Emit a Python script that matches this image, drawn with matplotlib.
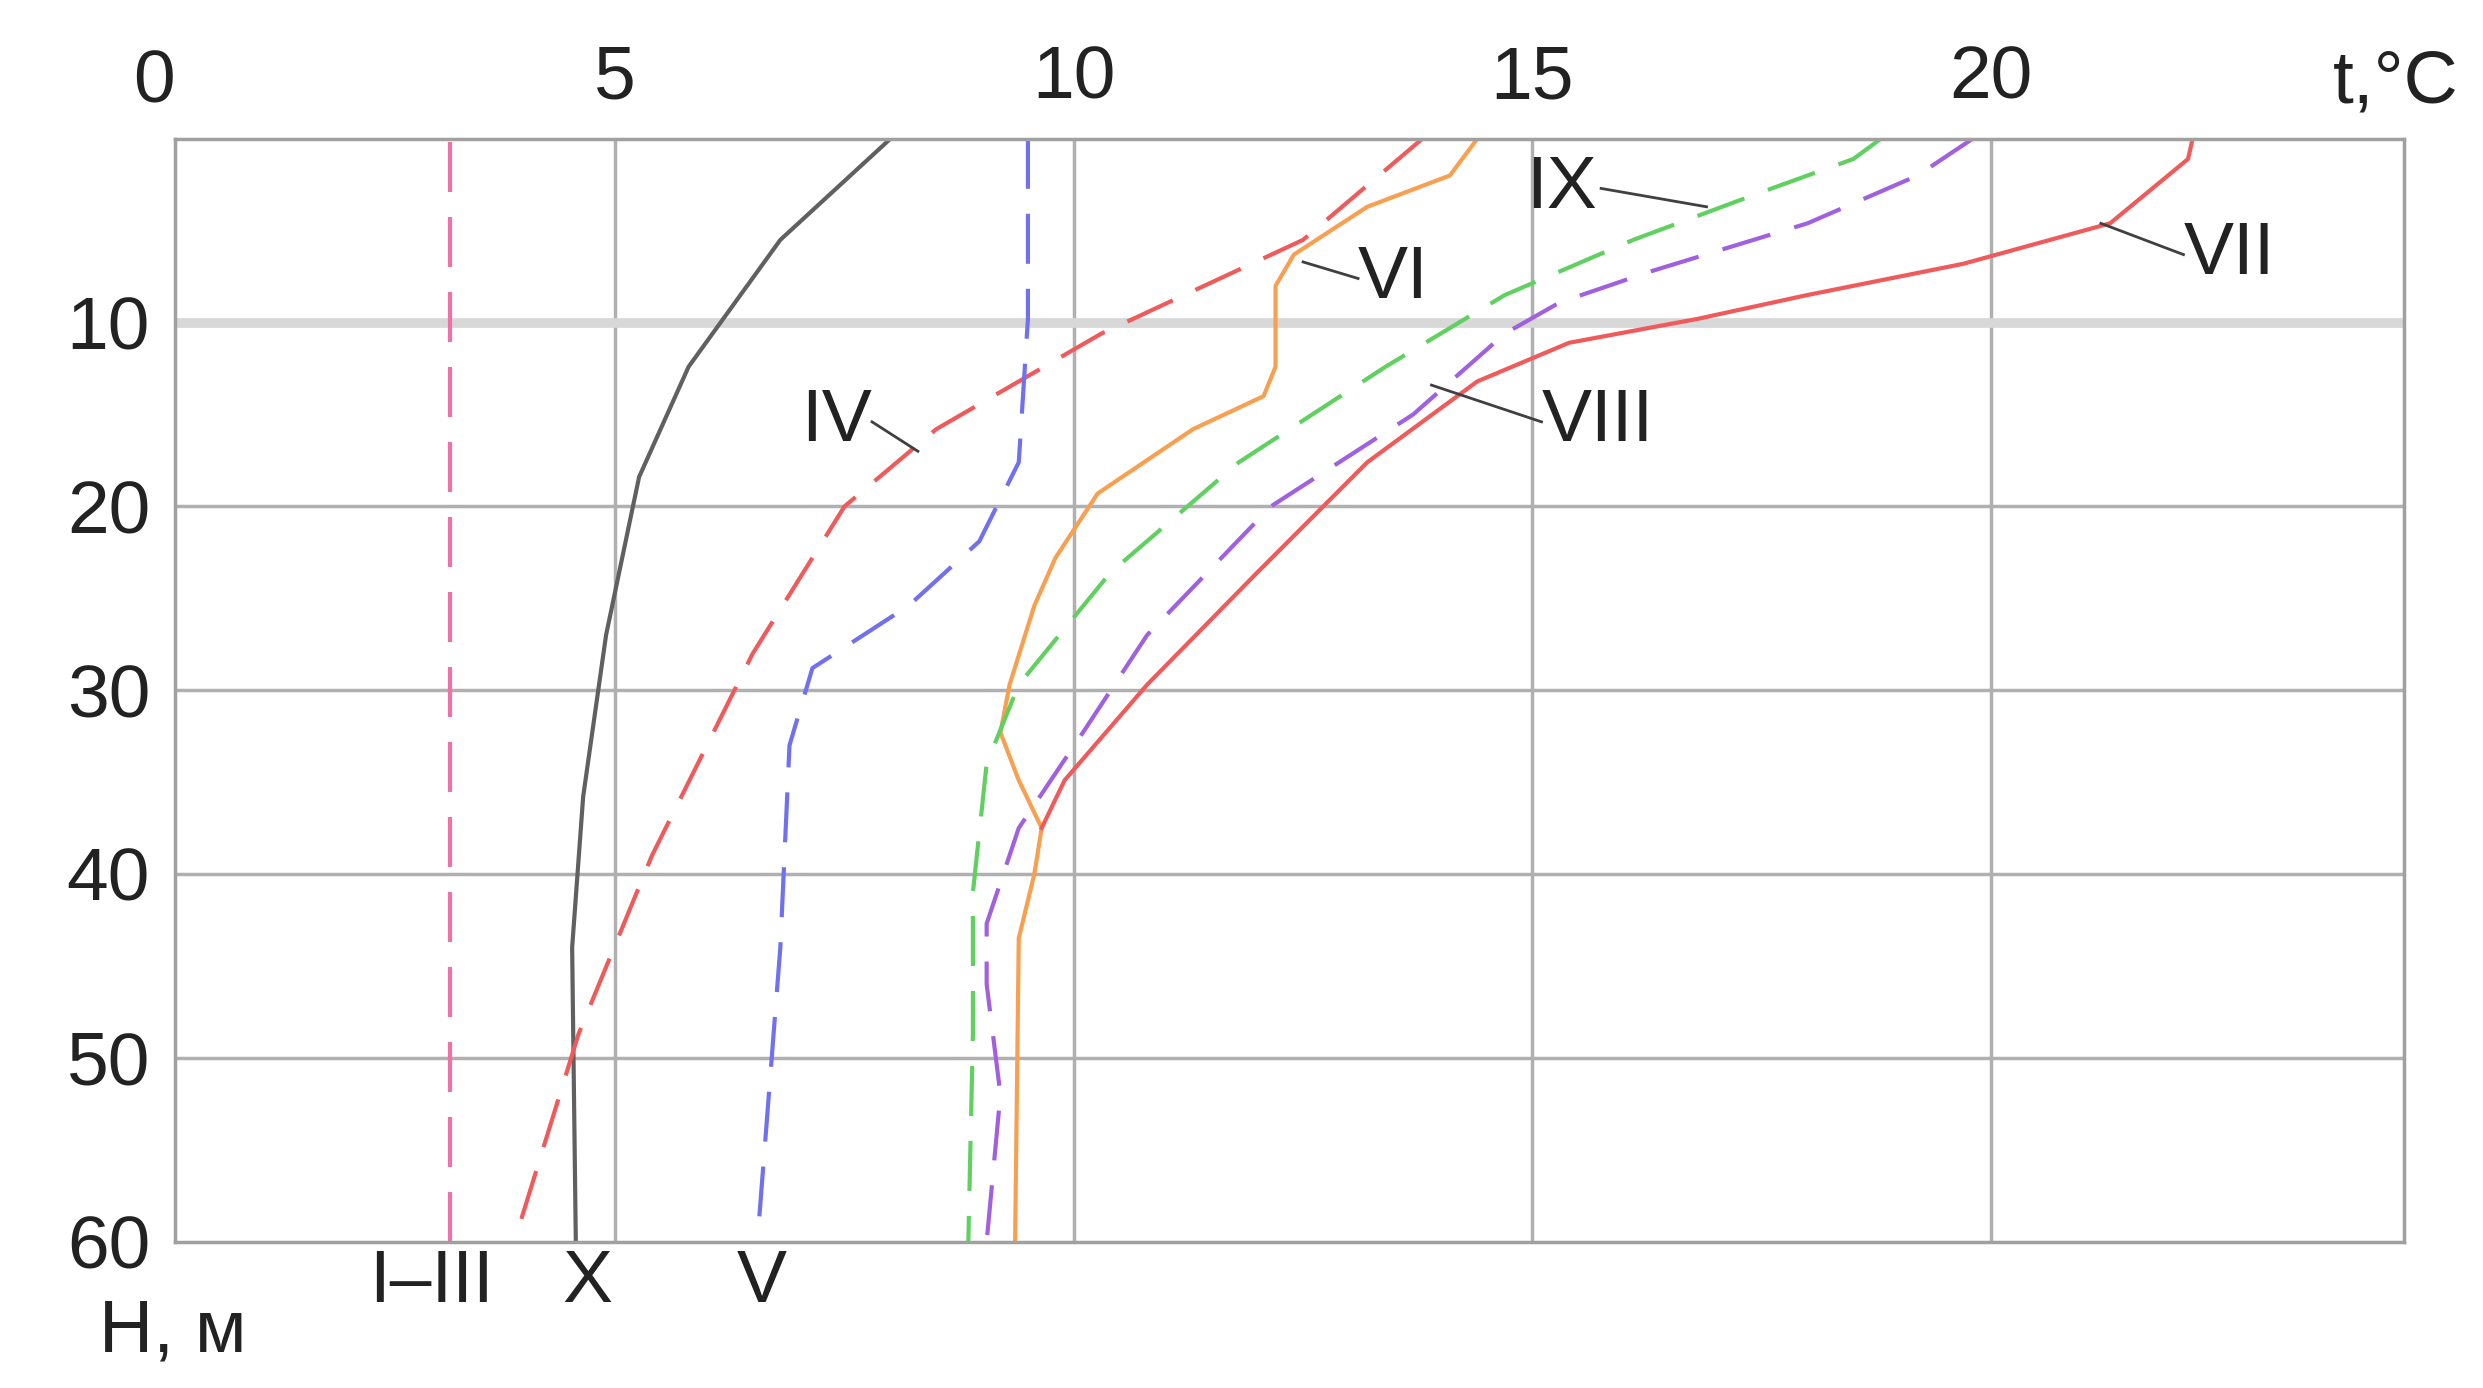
import matplotlib
matplotlib.use("Agg")
import matplotlib.pyplot as plt

plt.rcParams['font.family'] = ['Liberation Sans', 'DejaVu Sans']

# depth (m) and temperature (°C) for each month curve
X_H = [0, 5.5, 12.4, 18.4, 27, 35.8, 44, 60]
X_T = [8.0, 6.8, 5.8, 5.26, 4.9, 4.65, 4.53, 4.57]

IV_H = [0, 5.5, 10.6, 15.8, 20, 28, 39, 48.7, 60]
IV_T = [13.8, 12.5, 10.3, 8.5, 7.5, 6.5, 5.4, 4.6, 3.9]

V_H = [0, 9.8, 17.6, 21.9, 25.4, 28.8, 33, 44, 60]
V_T = [9.5, 9.5, 9.4, 8.97, 8.2, 7.15, 6.9, 6.8, 6.55]

VI_H = [0, 2, 3.7, 6.3, 8, 12.4, 14, 15.8, 19.3, 22.8, 25.4, 29.7, 32.3, 34.9, 37.5, 40, 43.5, 60]
VI_T = [14.4, 14.1, 13.2, 12.4, 12.2, 12.2, 12.07, 11.3, 10.26, 9.8, 9.57, 9.3, 9.2, 9.4, 9.65, 9.57, 9.4, 9.36]

VII_H = [0, 1.1, 4.6, 6.8, 8.5, 9.8, 11.1, 13.2, 17.6, 23.6, 29.7, 34.9, 37.5]
VII_T = [22.2, 22.15, 21.3, 19.7, 18.0, 16.8, 15.4, 14.4, 13.2, 12.0, 10.8, 9.9, 9.65]

VIII_H = [0, 2, 4.6, 7.2, 8.9, 10.6, 15, 20, 27, 32.3, 37.5, 42.7, 46, 52, 60]
VIII_T = [19.8, 19.2, 18.0, 16.3, 15.3, 14.7, 13.7, 12.15, 10.8, 10.1, 9.4, 9.05, 9.05, 9.2, 9.05]

IX_H = [0, 1.1, 2.9, 5.5, 8.5, 12.4, 17.6, 23.6, 29.7, 34, 41, 48.7, 60]
IX_T = [18.8, 18.5, 17.5, 16.1, 14.7, 13.4, 11.8, 10.4, 9.4, 9.05, 8.9, 8.9, 8.85]

I_III_T = 3.2

fig = plt.figure(figsize=(24.83, 13.88), dpi=100)
ax = fig.add_axes([0.0705, 0.1055, 0.8975, 0.7945])

GRID = "#b0b0b0"
for x in [5, 10, 15, 20]:
    ax.axvline(x, color=GRID, lw=2.5, zorder=0)
for y in [20, 30, 40, 50]:
    ax.axhline(y, color=GRID, lw=2.5, zorder=0)
ax.axhline(10, color="#d8d8d8", lw=7, zorder=0)

dash = (0, (12, 6))
LW = 3
ax.axvline(I_III_T, color="#f070a8", lw=LW, ls=dash)
ax.plot(X_T, X_H, color="#606060", lw=LW)
ax.plot(IV_T, IV_H, color="#f05a5a", lw=LW, ls=dash)
ax.plot(V_T, V_H, color="#7070f0", lw=LW, ls=dash)
ax.plot(VI_T, VI_H, color="#f8a050", lw=LW)
ax.plot(VII_T, VII_H, color="#f05a5a", lw=LW)
ax.plot(VIII_T, VIII_H, color="#a060e0", lw=LW, ls=dash)
ax.plot(IX_T, IX_H, color="#60d060", lw=LW, ls=dash)

FS = 54
lab = dict(fontsize=FS, color="#222222", va="center")
lead = dict(color="#404040", lw=2)
ax.text(15.7, 2.7, "IX", ha="right", **lab)
ax.plot([15.75, 16.9], [2.7, 3.7], **lead)
ax.text(13.1, 7.6, "VI", ha="left", **lab)
ax.plot([12.5, 13.1], [6.7, 7.6], **lead)
ax.text(22.1, 6.3, "VII", ha="left", **lab)
ax.plot([21.2, 22.1], [4.6, 6.3], **lead)
ax.text(15.1, 15.4, "VIII", ha="left", **lab)
ax.plot([13.9, 15.1], [13.4, 15.4], **lead)
ax.text(7.8, 15.4, "IV", ha="right", **lab)
ax.plot([7.8, 8.3], [15.4, 17.0], **lead)

ax.set_xlim(0.2, 24.5)
ax.set_ylim(60, 0)
ax.xaxis.tick_top()
ax.set_xticks([5, 10, 15, 20])
ax.set_yticks([10, 20, 30, 40, 50, 60])
ax.tick_params(length=0, labelsize=FS, colors="#222222", pad=18)
for s in ax.spines.values():
    s.set_color("#a0a0a0")
    s.set_linewidth(2.5)
fig.text(0.062, 0.94, "0", ha="center", va="center", fontsize=FS, color="#222")

fig.text(0.99, 0.94, "t,°C", ha="right", va="center", fontsize=FS, color="#222")
fig.text(0.04, 0.04, "H, м", ha="left", va="center", fontsize=FS, color="#222")
for x, s in [(3.0, "I–III"), (4.7, "X"), (6.6, "V")]:
    ax.text(x, 62.2, s, ha="center", va="center", fontsize=FS, color="#222")

fig.savefig("out.png", facecolor="white")
